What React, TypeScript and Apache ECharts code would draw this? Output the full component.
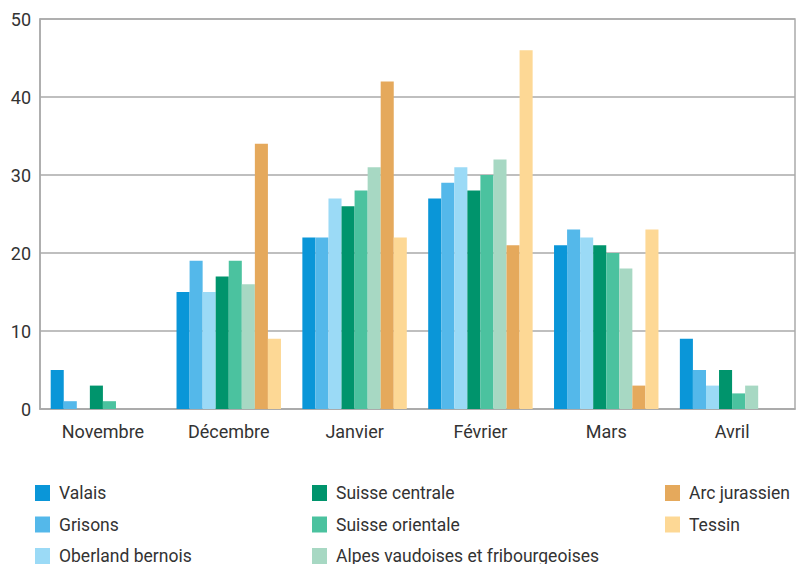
import React, { useEffect, useRef } from "react";
import * as echarts from "echarts";

const categories = ["Novembre", "Décembre", "Janvier", "Février", "Mars", "Avril"];
const seriesNames = [
  "Valais",
  "Grisons",
  "Oberland bernois",
  "Suisse centrale",
  "Suisse orientale",
  "Alpes vaudoises et fribourgeoises",
  "Arc jurassien",
  "Tessin",
];
const valais = [5, 15, 22, 27, 21, 9];
const grisons = [1, 19, 22, 29, 23, 5];
const oberland = [0, 15, 27, 31, 22, 3];
const suisseCentrale = [3, 17, 26, 28, 21, 5];
const suisseOrientale = [1, 19, 28, 30, 20, 2];
const alpesVaudoises = [0, 16, 31, 32, 18, 3];
const arcJurassien = [0, 34, 42, 21, 3, 0];
const tessin = [0, 9, 22, 46, 23, 0];
const seriesValues = [valais, grisons, oberland, suisseCentrale, suisseOrientale, alpesVaudoises, arcJurassien, tessin];
const colors = ["#0a96d8", "#54b8ea", "#9bdaf6", "#00946c", "#4bc29f", "#a7d8c3", "#e5a95c", "#fdd895"];

const FONT = "Roboto, 'DejaVu Sans', sans-serif";

export default function App() {
  const ref = useRef<HTMLDivElement>(null);
  useEffect(() => {
    if (!ref.current) return;
    const chart = echarts.init(ref.current, undefined, { renderer: "svg" });
    const legendCol = (names: string[], left: number) => ({
      orient: "vertical" as const,
      left,
      top: 483,
      height: 120,
      padding: 0,
      itemWidth: 15,
      itemHeight: 16,
      itemGap: 11.5,
      icon: "rect",
      selectedMode: false,
      data: names,
      textStyle: { fontFamily: FONT, fontSize: 17.5, color: "#333", padding: [0, 0, 0, 4], lineHeight: 20 },
    });
    chart.setOption({
      animation: false,
      color: colors,
      grid: {
        left: 40,
        right: 11,
        top: 19,
        bottom: 155,
        show: true,
        borderColor: "#aaaaaa",
        borderWidth: 1.5,
      },
      legend: [
        legendCol(seriesNames.slice(0, 3), 35),
        legendCol(seriesNames.slice(3, 6), 312),
        legendCol(seriesNames.slice(6, 8), 665),
      ],
      xAxis: {
        type: "category",
        data: categories,
        axisLine: { lineStyle: { color: "#aaaaaa", width: 1.5 } },
        axisTick: { inside: true, length: 9, lineStyle: { color: "#aaaaaa", width: 1.5 } },
        axisLabel: { fontFamily: FONT, fontSize: 18, color: "#333", margin: 13 },
      },
      yAxis: {
        type: "value",
        min: 0,
        max: 50,
        interval: 10,
        axisLine: { show: true, lineStyle: { color: "#aaaaaa", width: 1.5 } },
        axisTick: { show: false },
        splitLine: { lineStyle: { color: "#aaaaaa", width: 1.5 } },
        axisLabel: { fontFamily: FONT, fontSize: 18, color: "#333", margin: 9 },
      },
      series: seriesNames.map((name, i) => ({
        name,
        type: "bar",
        data: seriesValues[i],
        barGap: "0%",
        barCategoryGap: "17%",
        itemStyle: { color: colors[i] },
      })),
    });
    return () => chart.dispose();
  }, []);
  return <div ref={ref} style={{ width: 806, height: 564, position: "absolute", left: 0, top: 0 }} />;
}
